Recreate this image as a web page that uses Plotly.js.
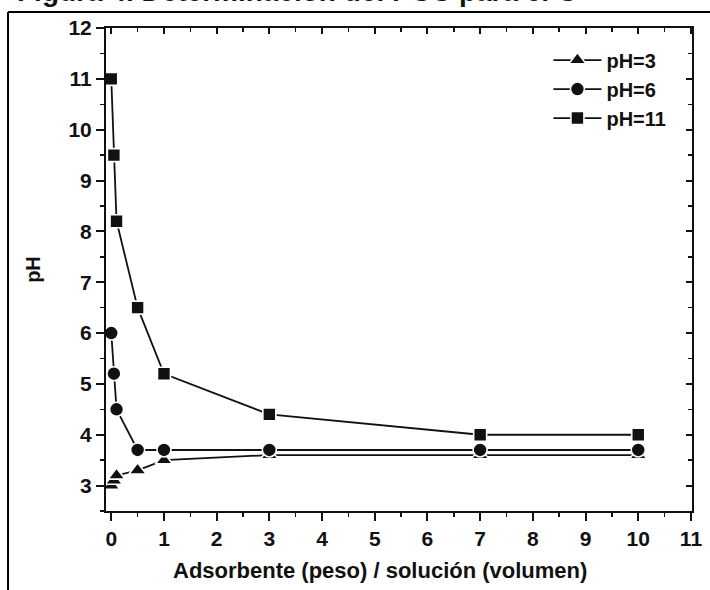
<!DOCTYPE html>
<html>
<head>
<meta charset="utf-8">
<script src="https://cdn.plot.ly/plotly-3.0.1.min.js"></script>
<style>
html,body{margin:0;padding:0;background:#fff;}
#chart{width:710px;height:590px;}
</style>
</head>
<body>
<div id="chart"></div>
<script>
// Data
const ratio = [0, 0.05, 0.1, 0.5, 1, 3, 7, 10];
const ph3  = [3.0, 3.1, 3.2, 3.3, 3.5, 3.6, 3.6, 3.6];
const ph6  = [6.0, 5.2, 4.5, 3.7, 3.7, 3.7, 3.7, 3.7];
const ph11 = [11.0, 9.5, 8.2, 6.5, 5.2, 4.4, 4.0, 4.0];
const seriesNames = ['pH=3', 'pH=6', 'pH=11'];
const xTitle = 'Adsorbente (peso) / solución (volumen)';
const yTitle = 'pH';
const figTitle = 'Figura 4. Determinación del PCC para el C';

const FONT = 'Liberation Sans, Arial, sans-serif';
const INK = '#111111';

function series(y, name, symbol, size) {
  return {
    x: ratio, y: y, name: name, type: 'scatter', mode: 'lines+markers',
    legendgroup: name,
    line: {color: INK, width: 1.8},
    marker: {symbol: symbol, size: size, color: INK, line: {color: '#ffffff', width: 1.6}}
  };
}

const traces = [
  series(ph3, seriesNames[0], 'triangle-up', 15),
  series(ph6, seriesNames[1], 'circle', 14),
  series(ph11, seriesNames[2], 'square', 13),
  {x: [0], y: [3], xaxis: 'x2', yaxis: 'y2', mode: 'markers', marker: {opacity: 0}, showlegend: false, hoverinfo: 'skip'}
];

const tickFont = {family: FONT, size: 21, color: INK, weight: 'bold'};
const xRange = [-0.1, 11.02];
const yRange = [2.5, 12];

const layout = {
  width: 710, height: 590,
  margin: {l: 106, r: 18, t: 28, b: 79},
  paper_bgcolor: '#ffffff', plot_bgcolor: '#ffffff',
  font: {family: FONT, color: INK},
  showlegend: true,
  legend: {
    x: 0.755, y: 0.974, xanchor: 'left', yanchor: 'top',
    font: {family: FONT, size: 20, color: INK, weight: 'bold'},
    bgcolor: 'rgba(0,0,0,0)', tracegroupgap: 0, itemwidth: 48
  },
  xaxis: {
    range: xRange, dtick: 1, tick0: 0,
    showgrid: false, zeroline: false,
    showline: true, linecolor: INK, linewidth: 2,
    ticks: 'outside', ticklen: 8, tickwidth: 2, tickcolor: INK,
    minor: {dtick: 0.5, ticks: 'outside', ticklen: 4, tickwidth: 1.5, tickcolor: INK},
    tickfont: tickFont
  },
  yaxis: {
    range: yRange, dtick: 1, tick0: 0,
    showgrid: false, zeroline: false,
    showline: true, linecolor: INK, linewidth: 2,
    ticks: 'outside', ticklen: 8, tickwidth: 2, tickcolor: INK,
    minor: {dtick: 0.5, ticks: 'outside', ticklen: 4, tickwidth: 1.5, tickcolor: INK},
    tickfont: tickFont,
    title: {text: yTitle, font: {family: FONT, size: 20, color: INK, weight: 'bold'}, standoff: 22}
  },
  xaxis2: {
    overlaying: 'x', side: 'top', anchor: 'y2', range: xRange, dtick: 1, tick0: 0,
    showgrid: false, zeroline: false, showticklabels: false,
    showline: true, linecolor: INK, linewidth: 2,
    ticks: 'inside', ticklen: 6, tickwidth: 2, tickcolor: INK,
    minor: {dtick: 0.5, ticks: 'inside', ticklen: 4, tickwidth: 1.5, tickcolor: INK}
  },
  yaxis2: {
    overlaying: 'y', side: 'right', anchor: 'x2', range: yRange, dtick: 1, tick0: 0,
    showgrid: false, zeroline: false, showticklabels: false,
    showline: true, linecolor: INK, linewidth: 2,
    ticks: 'inside', ticklen: 6, tickwidth: 2, tickcolor: INK,
    minor: {dtick: 0.5, ticks: 'inside', ticklen: 4, tickwidth: 1.5, tickcolor: INK}
  },
  shapes: [
    {type: 'line', xref: 'paper', yref: 'paper', x0: -0.1672, x1: -0.1672, y0: 1.0331, y1: -0.2, line: {color: '#000', width: 2}},
    {type: 'line', xref: 'paper', yref: 'paper', x0: -0.1672, x1: 1.05, y0: 1.0331, y1: 1.0331, line: {color: '#000', width: 2}}
  ],
  annotations: [
    {text: figTitle, xref: 'paper', yref: 'paper', x: -0.1553, y: 1.0393, xanchor: 'left', yanchor: 'bottom',
     showarrow: false, font: {family: FONT, size: 28, color: INK, weight: 'bold'}},
    {text: xTitle, xref: 'paper', yref: 'paper', x: 0.4676, y: -0.1242, xanchor: 'center', yanchor: 'middle',
     showarrow: false, font: {family: FONT, size: 22, color: INK, weight: 'bold'}}
  ]
};

Plotly.newPlot('chart', traces, layout, {displayModeBar: false, staticPlot: true});
</script>
</body>
</html>
